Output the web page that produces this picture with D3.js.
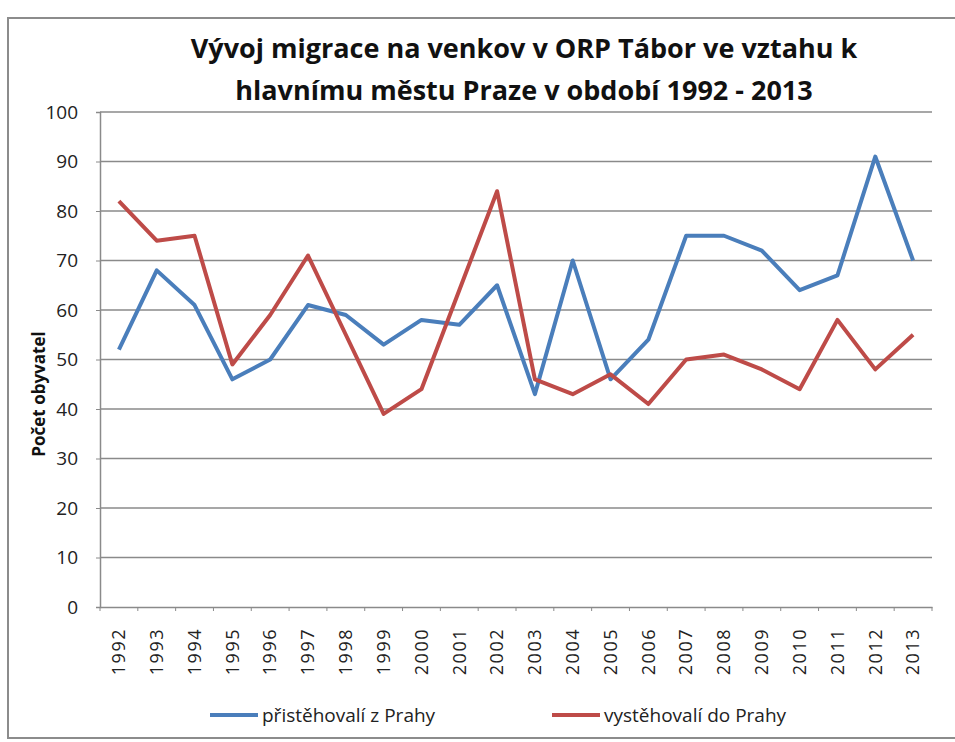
<!DOCTYPE html>
<html>
<head>
<meta charset="utf-8">
<script src="https://cdn.jsdelivr.net/npm/d3@7"></script>
<style>
  body { margin: 0; background: #fff; }
  svg { display: block; }
  text { font-family: "Open Sans", "DejaVu Sans", sans-serif; }
</style>
</head>
<body>
<svg id="chart" width="955" height="742"></svg>
<script>
// data
const years = ["1992","1993","1994","1995","1996","1997","1998","1999","2000","2001","2002",
               "2003","2004","2005","2006","2007","2008","2009","2010","2011","2012","2013"];
const prichoziZPrahy = [52, 68, 61, 46, 50, 61, 59, 53, 58, 57, 65, 43, 70, 46, 54, 75, 75, 72, 64, 67, 91, 70];
const odchoziDoPrahy = [82, 74, 75, 49, 59, 71, 55, 39, 44, 64, 84, 46, 43, 47, 41, 50, 51, 48, 44, 58, 48, 55];
const yTicks = [0, 10, 20, 30, 40, 50, 60, 70, 80, 90, 100];
const seriesNames = ["přistěhovalí z Prahy", "vystěhovalí do Prahy"];
const seriesColors = ["#4a7ebb", "#be4b48"];

const svg = d3.select("#chart");

// outer frame of the chart
svg.append("rect")
    .attr("x", 8).attr("y", 18)
    .attr("width", 960).attr("height", 720)
    .attr("fill", "none")
    .attr("stroke", "#8c8c8c")
    .attr("stroke-width", 2);

const plot = {left: 100, right: 932, top: 112, bottom: 607};

const x = d3.scaleBand()
    .domain(years)
    .range([plot.left, plot.right]);

const y = d3.scaleLinear()
    .domain([0, 100])
    .range([plot.bottom, plot.top]);

// horizontal gridlines
svg.append("g")
    .selectAll("line")
    .data(yTicks.filter(t => t > 0))
    .enter()
    .append("line")
    .attr("x1", plot.left).attr("x2", plot.right)
    .attr("y1", d => y(d)).attr("y2", d => y(d))
    .style("stroke", "#8a8a8a")
    .style("stroke-width", 1.5);

// y axis
const yAxis = svg.append("g")
    .attr("transform", `translate(${plot.left},0)`)
    .call(d3.axisLeft(y).tickValues(yTicks).tickSize(4).tickPadding(18));
yAxis.select(".domain").attr("stroke", "#8a8a8a").attr("stroke-width", 1.5);
yAxis.selectAll(".tick line").attr("stroke", "#8a8a8a");
yAxis.selectAll("text")
    .style("font-size", "19px")
    .style("font-family", "'Open Sans', sans-serif")
    .attr("fill", "#222");

// x axis
const xAxis = svg.append("g")
    .attr("transform", `translate(0,${plot.bottom})`)
    .call(d3.axisBottom(x).tickSize(0).tickPadding(0));
xAxis.select(".domain").attr("stroke", "#8a8a8a").attr("stroke-width", 1.5);
xAxis.selectAll("text")
    .attr("transform", "rotate(-90)")
    .attr("x", -21)
    .attr("y", 0)
    .attr("dy", "0.35em")
    .style("text-anchor", "end")
    .style("font-size", "18px")
    .style("letter-spacing", "1.5px")
    .style("font-family", "'Open Sans', sans-serif")
    .attr("fill", "#222");

// small tick marks between categories
svg.append("g")
    .selectAll("line")
    .data(years.concat(["end"]))
    .enter()
    .append("line")
    .attr("x1", (d, i) => plot.left + i * x.step())
    .attr("x2", (d, i) => plot.left + i * x.step())
    .attr("y1", plot.bottom).attr("y2", plot.bottom + 4)
    .style("stroke", "#8a8a8a");

// lines
const line = d3.line()
    .x((d, i) => x(years[i]) + x.bandwidth() / 2)
    .y(d => y(d));

[prichoziZPrahy, odchoziDoPrahy].forEach((vals, k) => {
    svg.append("path")
        .datum(vals)
        .attr("d", line)
        .attr("fill", "none")
        .attr("stroke", seriesColors[k])
        .attr("stroke-width", 4)
        .attr("stroke-linejoin", "round");
});

// title
const title = svg.append("text")
    .attr("text-anchor", "middle")
    .style("font-size", "27px")
    .style("font-weight", "bold")
    .attr("fill", "#111");
title.append("tspan").attr("x", 524).attr("y", 58).text("Vývoj migrace na venkov v ORP Tábor ve vztahu k");
title.append("tspan").attr("x", 524).attr("y", 100).text("hlavnímu městu Praze v období 1992 - 2013");

// y axis title
svg.append("text")
    .attr("transform", "translate(45,394) rotate(-90)")
    .attr("text-anchor", "middle")
    .style("font-size", "17px")
    .style("font-weight", "bold")
    .attr("fill", "#111")
    .text("Počet obyvatel");

// legend
const legendX = [210, 552];
const legend = svg.append("g");
seriesNames.forEach((name, k) => {
    legend.append("line")
        .attr("x1", legendX[k]).attr("x2", legendX[k] + 48)
        .attr("y1", 715).attr("y2", 715)
        .attr("stroke", seriesColors[k])
        .attr("stroke-width", 4);
    legend.append("text")
        .attr("x", legendX[k] + 52)
        .attr("y", 715)
        .attr("dy", "0.35em")
        .style("font-size", "19px")
        .attr("fill", "#222")
        .text(name);
});
</script>
</body>
</html>
